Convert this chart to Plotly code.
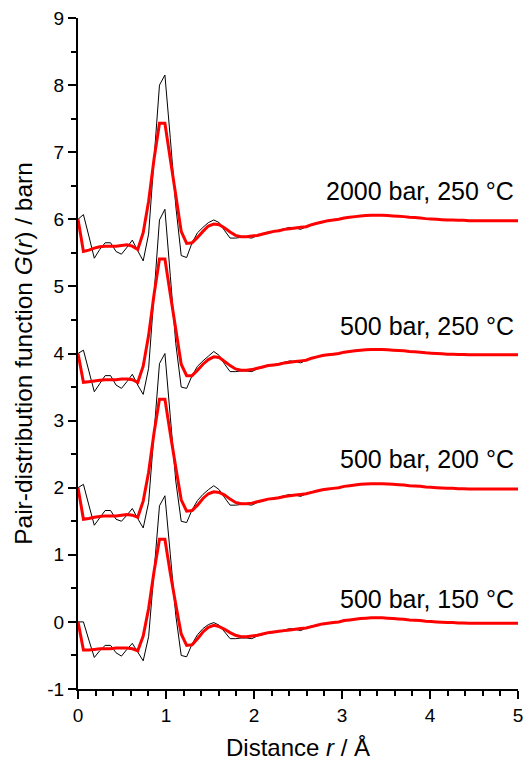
import numpy as np
import plotly.graph_objects as go

# sampling grid of the G(r) data (Å)
r = np.linspace(0, 5, 82)

labels = ["2000 bar, 250 °C", "500 bar, 250 °C", "500 bar, 200 °C", "500 bar, 150 °C"]
offsets = [6, 4, 2, 0]
label_y = [6.42, 4.41, 2.43, 0.34]

tail = [-0.02, -0.01, 0.00, 0.02, 0.03, 0.04, 0.05, 0.055, 0.06, 0.06,
        0.06, 0.055, 0.05, 0.045, 0.04, 0.03, 0.025, 0.02, 0.01, 0.005,
        0.0, -0.005, -0.01, -0.01, -0.015, -0.015, -0.02, -0.02, -0.02, -0.02,
        -0.02, -0.02, -0.02, -0.02, -0.02, -0.02]

black_2000_250 = [0.00, 0.07, -0.25, -0.58, -0.45, -0.35, -0.35, -0.48, -0.52, -0.42,
                  -0.31, -0.47, -0.62, -0.22, 0.90, 2.00, 2.15, 1.20, 0.20, -0.54,
                  -0.57, -0.35, -0.20, -0.12, -0.05, -0.01, -0.05, -0.17, -0.28, -0.28,
                  -0.27, -0.27, -0.28, -0.24, -0.22, -0.19, -0.19, -0.16, -0.14, -0.12,
                  -0.13, -0.15, -0.11, -0.08, -0.06, -0.04] + tail
red_2000_250 = [0.00, -0.48, -0.46, -0.43, -0.41, -0.40, -0.40, -0.40, -0.39, -0.38,
                -0.40, -0.45, -0.20, 0.27, 0.90, 1.43, 1.43, 0.89, 0.36, -0.18,
                -0.36, -0.35, -0.27, -0.18, -0.10, -0.07, -0.08, -0.13, -0.19, -0.24,
                -0.26, -0.26, -0.25, -0.24, -0.22, -0.20, -0.18, -0.17, -0.15, -0.14,
                -0.13, -0.12, -0.11, -0.08, -0.06, -0.04] + tail

black_500_250 = [0.00, 0.05, -0.26, -0.57, -0.45, -0.33, -0.33, -0.47, -0.52, -0.42,
                 -0.31, -0.47, -0.61, -0.22, 0.88, 1.99, 2.15, 1.15, 0.15, -0.50,
                 -0.52, -0.33, -0.19, -0.11, -0.04, 0.03, -0.03, -0.16, -0.27, -0.27,
                 -0.26, -0.26, -0.27, -0.23, -0.21, -0.18, -0.18, -0.15, -0.13, -0.11,
                 -0.12, -0.14, -0.10, -0.07, -0.05, -0.03] + tail
red_500_250 = [0.00, -0.43, -0.42, -0.41, -0.40, -0.39, -0.39, -0.39, -0.38, -0.38,
               -0.39, -0.43, -0.19, 0.27, 0.88, 1.41, 1.41, 0.88, 0.36, -0.16,
               -0.33, -0.33, -0.25, -0.16, -0.09, -0.05, -0.06, -0.12, -0.18, -0.23,
               -0.25, -0.25, -0.24, -0.22, -0.20, -0.18, -0.17, -0.16, -0.14, -0.13,
               -0.12, -0.11, -0.10, -0.07, -0.05, -0.03] + tail

black_500_200 = [0.00, 0.05, -0.26, -0.56, -0.45, -0.34, -0.34, -0.47, -0.50, -0.41,
                 -0.31, -0.46, -0.60, -0.22, 0.82, 1.85, 2.00, 1.05, 0.10, -0.50,
                 -0.52, -0.33, -0.19, -0.10, -0.03, 0.03, -0.03, -0.15, -0.26, -0.26,
                 -0.25, -0.25, -0.26, -0.22, -0.20, -0.17, -0.17, -0.14, -0.12, -0.10,
                 -0.11, -0.13, -0.09, -0.06, -0.05, -0.03] + tail
red_500_200 = [0.00, -0.47, -0.46, -0.44, -0.43, -0.42, -0.42, -0.42, -0.41, -0.40,
               -0.41, -0.44, -0.20, 0.23, 0.82, 1.32, 1.32, 0.80, 0.30, -0.18,
               -0.35, -0.34, -0.26, -0.16, -0.09, -0.06, -0.07, -0.11, -0.17, -0.22,
               -0.24, -0.24, -0.23, -0.21, -0.19, -0.17, -0.16, -0.15, -0.13, -0.12,
               -0.11, -0.10, -0.09, -0.07, -0.05, -0.03] + tail

black_500_150 = [0.00, 0.00, -0.27, -0.53, -0.43, -0.35, -0.35, -0.46, -0.51, -0.41,
                 -0.32, -0.45, -0.58, -0.22, 0.75, 1.73, 1.88, 1.00, 0.10, -0.50,
                 -0.52, -0.33, -0.19, -0.10, -0.04, -0.01, -0.05, -0.15, -0.25, -0.25,
                 -0.24, -0.24, -0.25, -0.21, -0.19, -0.17, -0.16, -0.14, -0.12, -0.10,
                 -0.11, -0.13, -0.09, -0.06, -0.05, -0.03] + tail
red_500_150 = [0.00, -0.42, -0.42, -0.41, -0.40, -0.40, -0.40, -0.39, -0.39, -0.39,
               -0.40, -0.43, -0.21, 0.20, 0.75, 1.23, 1.23, 0.72, 0.26, -0.18,
               -0.35, -0.34, -0.25, -0.15, -0.08, -0.05, -0.07, -0.11, -0.16, -0.20,
               -0.22, -0.22, -0.21, -0.20, -0.18, -0.16, -0.15, -0.14, -0.13, -0.12,
               -0.11, -0.10, -0.09, -0.07, -0.05, -0.03] + tail

blacks = [black_2000_250, black_500_250, black_500_200, black_500_150]
reds = [red_2000_250, red_500_250, red_500_200, red_500_150]

x_ticks = [0, 1, 2, 3, 4, 5]
x_ticktext = ["0", "1", "2", "3", "4", "5"]
y_ticks = [-1, 0, 1, 2, 3, 4, 5, 6, 7, 8, 9]
y_ticktext = ["-1", "0", "1", "2", "3", "4", "5", "6", "7", "8", "9"]

FONT = "Liberation Sans, Arial, sans-serif"

fig = go.Figure()
for off, b in zip(offsets, blacks):
    fig.add_trace(go.Scatter(x=r, y=np.array(b) + off, mode="lines",
                             line=dict(color="black", width=1, simplify=False),
                             showlegend=False, hoverinfo="skip", cliponaxis=False))
for off, rd in zip(offsets, reds):
    fig.add_trace(go.Scatter(x=r, y=np.array(rd) + off, mode="lines",
                             line=dict(color="#ff0000", width=3, simplify=False),
                             showlegend=False, hoverinfo="skip", cliponaxis=False))

for lab, ly in zip(labels, label_y):
    fig.add_annotation(x=4.975, y=ly, text=lab, showarrow=False, xanchor="right",
                       yanchor="middle", font=dict(family=FONT, size=25, color="black"))

axis_common = dict(showgrid=False, zeroline=False, showline=True, linecolor="black",
                   linewidth=2, ticks="outside", ticklen=8, tickwidth=1.5,
                   tickcolor="black", tickfont=dict(family=FONT, size=19, color="black"),
                   tickmode="array", automargin=False)

fig.update_layout(
    width=531, height=767,
    margin=dict(l=78, r=13, t=18, b=78),
    paper_bgcolor="white", plot_bgcolor="white",
    font=dict(family=FONT, color="black"),
    xaxis=dict(range=[0, 5], tickvals=x_ticks, ticktext=x_ticktext,
               minor=dict(dtick=0.2, tick0=0, ticks="outside", ticklen=5,
                          tickwidth=1.5, tickcolor="black"),
               title=dict(text="Distance <i>r</i> / Å", font=dict(family=FONT, size=24),
                          standoff=14),
               **axis_common),
    yaxis=dict(range=[-1, 9], tickvals=y_ticks, ticktext=y_ticktext,
               minor=dict(dtick=0.5, tick0=0, ticks="outside", ticklen=5,
                          tickwidth=1.5, tickcolor="black"),
               title=dict(text="Pair-distribution function <i>G</i>(<i>r</i>) / barn",
                          font=dict(family=FONT, size=24.5), standoff=8),
               **axis_common),
)

fig.write_html("out.html", config={"displayModeBar": False},
               post_script="document.body.style.margin='0';document.body.style.padding='0';"
                           "document.body.style.overflow='hidden';")
